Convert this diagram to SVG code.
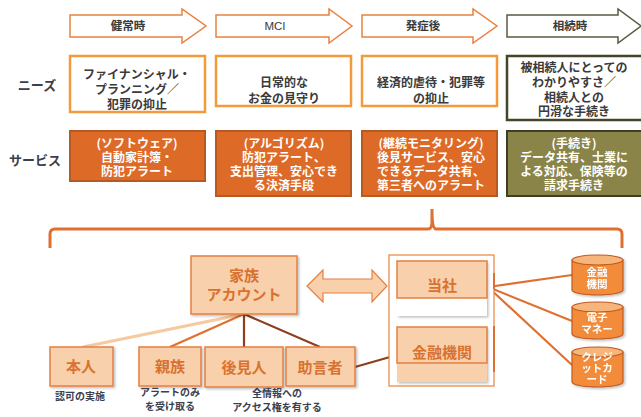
<svg xmlns="http://www.w3.org/2000/svg" width="641" height="417" viewBox="0 0 641 417">
<defs>
<style>
text{font-family:"Noto Sans CJK JP","Liberation Sans",sans-serif;font-weight:bold;text-anchor:middle}
.hd{font-size:11.5px;fill:#3a3a3a}
.lbl{font-size:13px;fill:#3a4050}
.need{font-size:12px;fill:#3a3a3a}
.svc{font-size:12px;fill:#ffffff}
.acc{font-size:15px;fill:#d9722e}
.note{font-size:10px;fill:#3a4050}
.cyl{font-size:10.5px;fill:#ffffff}
.arr{fill:#ffffff;stroke:#e8823e;stroke-width:1.5}
.nb{fill:#ffffff;stroke:#f39a3c;stroke-width:2.5}
.sb{fill:#de6a28;stroke:#b65a22;stroke-width:2}
.pk{fill:#f8d0ac;stroke:#e48040;stroke-width:1.5}
.cb{fill:#f28c3a;stroke:#c05a20;stroke-width:1.2}
.ct{fill:#f6b57a;stroke:#c05a20;stroke-width:1.2}
</style>
<filter id="sh" x="-10%" y="-10%" width="130%" height="130%"><feDropShadow dx="1.5" dy="1.5" stdDeviation="1.2" flood-color="#000" flood-opacity="0.25"/></filter>
</defs>

<!-- phase arrows -->
<g id="phase-kenjo"><path class="arr" d="M70,15 H182 V9 L206,26 L182,43 V37 H70 Z"/><text class="hd" x="128" y="30">健常時</text></g>
<g id="phase-mci"><path class="arr" d="M216,15 H329 V9 L352,26 L329,43 V37 H216 Z"/><text class="hd" x="275" y="30" style="font-weight:normal;font-family:'Liberation Sans',sans-serif">MCI</text></g>
<g id="phase-hassho"><path class="arr" d="M362,15 H473 V9 L497,26 L473,43 V37 H362 Z"/><text class="hd" x="423" y="30">発症後</text></g>
<g id="phase-sozoku"><path class="arr" style="stroke:#5a5a42" d="M507,15 H618 V9 L641,26 L618,43 V37 H507 Z"/><text class="hd" x="570" y="30">相続時</text></g>

<!-- row labels -->
<g id="label-needs"><text class="lbl" x="37" y="90">ニーズ</text></g>
<g id="label-services"><text class="lbl" x="35" y="165">サービス</text></g>

<!-- needs -->
<g id="need-1"><rect class="nb" x="70" y="56" width="135" height="56"/>
<text class="need" y="79"><tspan x="137">ファイナンシャル・</tspan><tspan x="137" dy="15">プランニング／</tspan><tspan x="137" dy="15">犯罪の抑止</tspan></text></g>
<g id="need-2"><rect class="nb" x="216" y="56" width="135" height="50"/>
<text class="need" y="87"><tspan x="284">日常的な</tspan><tspan x="284" dy="16">お金の見守り</tspan></text></g>
<g id="need-3"><rect class="nb" x="362" y="56" width="135" height="50"/>
<text class="need" y="87"><tspan x="431">経済的虐待・犯罪等</tspan><tspan x="431" dy="16">の抑止</tspan></text></g>
<g id="need-4"><rect class="nb" style="stroke:#45452a" x="507" y="56" width="136" height="64"/>
<text class="need" y="72"><tspan x="574">被相続人にとっての</tspan><tspan x="574" dy="15">わかりやすさ／</tspan><tspan x="574" dy="15">相続人との</tspan><tspan x="574" dy="14">円滑な手続き</tspan></text></g>

<!-- services -->
<g id="svc-1"><rect class="sb" x="70" y="131" width="135" height="50"/>
<text class="svc" y="148"><tspan x="137">(ソフトウェア)</tspan><tspan x="137" dy="14">自動家計簿・</tspan><tspan x="137" dy="14">防犯アラート</tspan></text></g>
<g id="svc-2"><rect class="sb" x="216" y="131" width="135" height="65"/>
<text class="svc" y="148"><tspan x="284">(アルゴリズム)</tspan><tspan x="284" dy="14">防犯アラート、</tspan><tspan x="284" dy="14">支出管理、安心でき</tspan><tspan x="284" dy="14">る決済手段</tspan></text></g>
<g id="svc-3"><rect class="sb" x="362" y="131" width="135" height="65"/>
<text class="svc" y="148"><tspan x="431">(継続モニタリング)</tspan><tspan x="431" dy="14">後見サービス、安心</tspan><tspan x="431" dy="14">できるデータ共有、</tspan><tspan x="431" dy="14">第三者へのアラート</tspan></text></g>
<g id="svc-4"><rect class="sb" style="fill:#8a8449;stroke:#3e3e24" x="507" y="131" width="136" height="65"/>
<text class="svc" y="148"><tspan x="574">(手続き)</tspan><tspan x="574" dy="14">データ共有、士業に</tspan><tspan x="574" dy="14">よる対応、保険等の</tspan><tspan x="574" dy="14">請求手続き</tspan></text></g>

<!-- brace -->
<g id="brace"><path d="M50,248 V234 Q50,229 55,229 H428 Q432,229 432,222 V209 Q432,229 436,229 H617 Q622,229 622,234 V248" fill="none" stroke="#e07030" stroke-width="3"/></g>

<!-- connectors -->
<g id="connectors" fill="none" stroke-width="2.2">
<line x1="244" y1="314" x2="83" y2="347" stroke="#f7c9a0" stroke-width="3"/>
<line x1="244" y1="314" x2="170" y2="347" stroke="#e07030"/>
<line x1="244" y1="314" x2="244" y2="347" stroke="#8a4020"/>
<line x1="244" y1="314" x2="320" y2="347" stroke="#8a4020"/>
<line x1="355" y1="367" x2="397" y2="355" stroke="#8a4020"/>
<line x1="488" y1="287" x2="572" y2="275" stroke="#e07030"/>
<line x1="488" y1="287" x2="572" y2="321" stroke="#e07030"/>
<line x1="488" y1="287" x2="572" y2="365" stroke="#e07030"/>
<path d="M307,286 L323,270 V279 H372 V270 L387,286 L372,302 V293 H323 V302 Z" fill="#f8d0ac" stroke="#e48040" stroke-width="1.2"/>
</g>

<!-- family account -->
<g id="family-account"><rect class="pk" x="191" y="256" width="106" height="58" filter="url(#sh)"/>
<text class="acc" y="281"><tspan x="244">家族</tspan><tspan x="244" dy="19">アカウント</tspan></text></g>

<!-- container -->
<g id="container"><rect x="389" y="255" width="105" height="131" fill="#ffffff" stroke="#e8823e" stroke-width="1.2"/>
<line x1="494" y1="273" x2="494" y2="289" stroke="#e07030" stroke-width="2"/>
<line x1="494" y1="326" x2="494" y2="372" stroke="#e07030" stroke-width="2"/></g>
<g id="tousha"><rect x="397" y="261" width="90" height="55" fill="#ffffff" filter="url(#sh)"/>
<rect class="pk" x="397" y="261" width="90" height="37"/><text class="acc" x="442" y="291">当社</text></g>
<g id="kinyu"><rect x="397" y="327" width="90" height="55" fill="#f8d0ac" filter="url(#sh)"/>
<rect class="pk" x="397" y="327" width="90" height="36"/><text class="acc" x="442" y="358">金融機関</text></g>

<!-- members -->
<g id="honnin"><rect class="pk" x="50" y="347" width="63" height="39" filter="url(#sh)"/><text class="acc" x="81" y="372">本人</text>
<text class="note" x="80" y="400">認可の実施</text></g>
<g id="shinzoku"><rect class="pk" x="139" y="347" width="62" height="39" filter="url(#sh)"/><text class="acc" x="170" y="372">親族</text>
<text class="note" y="396"><tspan x="170">アラートのみ</tspan><tspan x="170" dy="14">を受け取る</tspan></text></g>
<g id="kokennin"><rect class="pk" x="205" y="347" width="78" height="40" filter="url(#sh)"/><text class="acc" x="244" y="373">後見人</text>
<text class="note" y="397"><tspan x="277">全情報への</tspan><tspan x="277" dy="14">アクセス権を有する</tspan></text></g>
<g id="jogensha"><rect class="pk" x="286" y="347" width="69" height="39" filter="url(#sh)"/><text class="acc" x="320" y="373">助言者</text></g>

<!-- cylinders -->
<g id="cyl-kinyu" filter="url(#sh)"><path class="cb" d="M572,260 V290 A25.5,5 0 0 0 623,290 V260 Z"/><ellipse class="ct" cx="597.5" cy="260" rx="25.5" ry="5"/>
<text class="cyl" y="276"><tspan x="597">金融</tspan><tspan x="597" dy="12">機関</tspan></text></g>
<g id="cyl-emoney" filter="url(#sh)"><path class="cb" d="M572,307 V334 A25.5,5 0 0 0 623,334 V307 Z"/><ellipse class="ct" cx="597.5" cy="307" rx="25.5" ry="5"/>
<text class="cyl" y="321"><tspan x="597">電子</tspan><tspan x="597" dy="12">マネー</tspan></text></g>
<g id="cyl-credit" filter="url(#sh)"><path class="cb" d="M572,352 V382 A25.5,5 0 0 0 623,382 V352 Z"/><ellipse class="ct" cx="597.5" cy="352" rx="25.5" ry="5"/>
<text class="cyl" y="361"><tspan x="597">クレジ</tspan><tspan x="597" dy="11">ットカ</tspan><tspan x="597" dy="11">ード</tspan></text></g>
</svg>
